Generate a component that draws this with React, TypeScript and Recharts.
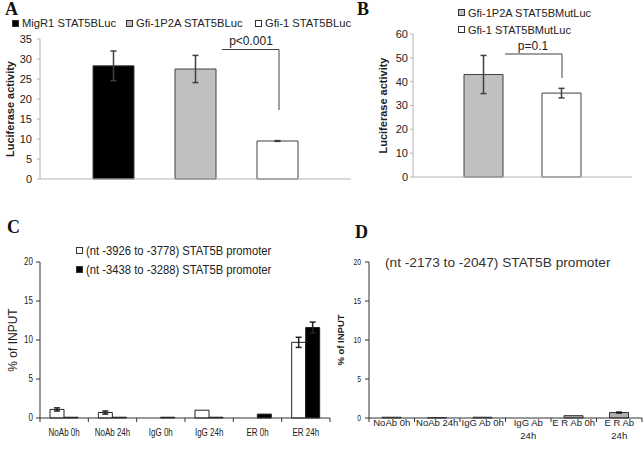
import React from "react";
import { BarChart, Bar, XAxis, YAxis, ErrorBar, Legend } from "recharts";

const SANS = "'Liberation Sans', Arial, sans-serif";
const SERIF = "'Liberation Serif', 'Times New Roman', serif";

// A: STAT5B reporter
const aSeries = ["MigR1 STAT5BLuc", "Gfi-1P2A STAT5BLuc", "Gfi-1 STAT5BLuc"];
const aValues = [28.3, 27.5, 9.5];
const aErrors = [3.7, 3.4, 0.1];
const aFills = ["#000000", "#c0c0c0", "#ffffff"];
const aTicks = [0, 5, 10, 15, 20, 25, 30, 35];

// B: mutated reporter
const bSeries = ["Gfi-1P2A STAT5BMutLuc", "Gfi-1 STAT5BMutLuc"];
const bValues = [43, 35.2];
const bErrors = [8, 2];
const bFills = ["#c0c0c0", "#ffffff"];
const bTicks = [0, 10, 20, 30, 40, 50, 60];

// C: ChIP, two promoter regions
const cCategories = ["NoAb 0h", "NoAb 24h", "IgG 0h", "IgG 24h", "ER 0h", "ER 24h"];
const cSeries = ["(nt -3926 to -3778) STAT5B promoter", "(nt -3438 to -3288) STAT5B promoter"];
const cUpstream = [1.1, 0.7, 0, 1.0, 0, 9.7];
const cUpstreamErr = [0.2, 0.2, 0, 0, 0, 0.65];
const cDownstream = [0.1, 0.1, 0.1, 0.1, 0.5, 11.6];
const cDownstreamErr = [0, 0, 0, 0, 0, 0.7];
const cFills = ["#ffffff", "#000000"];

// D: ChIP, third region
const dCategories = ["NoAb 0h", "NoAb 24h", "IgG Ab 0h", "IgG Ab\n24h", "E R Ab 0h", "E R Ab\n24h"];
const dValues = [0.1, 0.05, 0.1, 0, 0.3, 0.7];
const dErrors = [0, 0, 0, 0, 0, 0.05];
const pctTicks = [0, 5, 10, 15, 20];

const aRow: any = { name: "" };
aSeries.forEach((_, i) => {
  aRow[`v${i}`] = aValues[i];
  aRow[`e${i}`] = aErrors[i];
});
const bRow: any = { name: "" };
bSeries.forEach((_, i) => {
  bRow[`v${i}`] = bValues[i];
  bRow[`e${i}`] = bErrors[i];
});
const cData = cCategories.map((name, i) => ({
  name,
  up: cUpstream[i],
  upErr: cUpstreamErr[i],
  down: cDownstream[i],
  downErr: cDownstreamErr[i],
}));
const dData = dCategories.map((name, i) => ({ name, v: dValues[i], e: dErrors[i] }));

// legend with bordered swatches; xs = fixed item offsets for a single row
function SwatchLegend(props: any) {
  const { payload = [], order, xs, rowH, fontSize, squeeze = 1 } = props;
  const items = [...payload].sort(
    (a: any, b: any) => order.indexOf(a.value) - order.indexOf(b.value)
  );
  return (
    <div style={{ position: "relative", fontSize, fontFamily: SANS, color: "#222", whiteSpace: "nowrap", height: xs ? rowH : rowH * items.length }}>
      {items.map((it: any, i: number) => (
        <div
          key={it.value}
          style={{
            position: "absolute",
            left: xs ? xs[i] : 0,
            top: xs ? 0 : i * rowH,
            display: "flex",
            alignItems: "center",
            height: rowH,
          }}
        >
          <span style={{ width: 5, height: 5, border: "1px solid #333", background: it.color, marginRight: 3 }} />
          <span style={{ display: "inline-block", transform: `scaleX(${squeeze})`, transformOrigin: "left center" }}>{it.value}</span>
        </div>
      ))}
    </div>
  );
}

function yTitle(text: string, x: number, cyFallback: number, style: any) {
  return (p: any) => {
    const vb = p.viewBox;
    const cy = vb && vb.height ? vb.y + vb.height / 2 : cyFallback;
    return (
      <text x={x} y={cy} transform={`rotate(-90 ${x} ${cy})`} textAnchor="middle" dominantBaseline="central" fill="#222" {...style}>
        {text}
      </text>
    );
  };
}

// category tick: label in the band centre, tick marks on band edges
function BandTick(props: any) {
  const { x, y, payload, index, band, count, dy, lineH, fontSize, squeeze = 1, stroke } = props;
  const lines = String(payload.value).split("\n");
  const left = x - band / 2;
  return (
    <g>
      <line x1={left} x2={left} y1={y} y2={y + 4} stroke={stroke} />
      {index === count - 1 && <line x1={x + band / 2} x2={x + band / 2} y1={y} y2={y + 4} stroke={stroke} />}
      <text
        x={x}
        y={y + dy}
        textAnchor="middle"
        fontSize={fontSize}
        fontFamily={SANS}
        fill="#222"
        transform={`translate(${x} 0) scale(${squeeze} 1) translate(${-x} 0)`}
      >
        {lines.map((l, k) => (
          <tspan key={k} x={x} dy={k === 0 ? 0 : lineH}>
            {l}
          </tspan>
        ))}
      </text>
    </g>
  );
}

function NarrowYTick(props: any) {
  const { x, y, payload, fontSize, squeeze } = props;
  return (
    <text
      x={x}
      y={y}
      textAnchor="end"
      dominantBaseline="central"
      fontSize={fontSize}
      fontFamily={SANS}
      fill="#222"
      transform={`translate(${x} 0) scale(${squeeze} 1) translate(${-x} 0)`}
    >
      {payload.value}
    </text>
  );
}

export default function App() {
  const lightAxis = { stroke: "#b4b4b4" };
  const darkAxis = { stroke: "#333" };
  return (
    <div style={{ position: "absolute", left: 0, top: 0, width: 644, height: 449, background: "#fff", overflow: "hidden" }}>
      {/* A */}
      <div style={{ position: "absolute", left: 0, top: 0 }}>
        <BarChart width={360} height={200} data={[aRow]} margin={{ top: 39, right: 9, bottom: 0, left: 0 }} barSize={41} barGap={41}>
          <XAxis dataKey="name" tick={false} tickLine={false} height={21} axisLine={lightAxis} />
          <YAxis
            domain={[0, 35]}
            ticks={aTicks}
            interval={0}
            width={40}
            tickSize={3}
            tickMargin={5}
            axisLine={lightAxis}
            tickLine={lightAxis}
            tick={{ fill: "#222", fontSize: 11, fontFamily: SANS }}
            label={{ value: "Luciferase activity", content: yTitle("Luciferase activity", 10, 109, { fontSize: 11, fontWeight: "bold", fontFamily: SANS }) }}
          />
          <Legend
            layout="horizontal"
            verticalAlign="middle"
            align="center"
            wrapperStyle={{ top: 16, left: 0, width: 360 }}
            content={(p: any) => <SwatchLegend payload={p.payload} order={aSeries} xs={[12, 126, 255]} rowH={14} fontSize={11.2} />}
          />
          {aSeries.map((s, i) => (
            <Bar key={s} dataKey={`v${i}`} name={s} fill={aFills[i]} stroke="#404040" isAnimationActive={false}>
              <ErrorBar dataKey={`e${i}`} width={3} stroke="#404040" />
            </Bar>
          ))}
        </BarChart>
      </div>

      {/* B */}
      <div style={{ position: "absolute", left: 360, top: 0 }}>
        <BarChart width={284} height={200} data={[bRow]} margin={{ top: 34, right: 12, bottom: 0, left: 0 }} barSize={39} barGap={39}>
          <XAxis dataKey="name" tick={false} tickLine={false} height={23} axisLine={lightAxis} />
          <YAxis
            domain={[0, 60]}
            ticks={bTicks}
            interval={0}
            width={53}
            tickSize={3}
            tickMargin={2}
            axisLine={lightAxis}
            tickLine={lightAxis}
            tick={{ fill: "#222", fontSize: 11, fontFamily: SANS }}
            label={{ value: "Luciferase activity", content: yTitle("Luciferase activity", 23, 105, { fontSize: 11, fontWeight: "bold", fontFamily: SANS }) }}
          />
          <Legend
            layout="horizontal"
            verticalAlign="middle"
            align="center"
            wrapperStyle={{ top: 4, left: 98, width: 180 }}
            content={(p: any) => <SwatchLegend payload={p.payload} order={bSeries} rowH={17} fontSize={11} />}
          />
          {bSeries.map((s, i) => (
            <Bar key={s} dataKey={`v${i}`} name={s} fill={bFills[i]} stroke="#404040" isAnimationActive={false}>
              <ErrorBar dataKey={`e${i}`} width={3} stroke="#404040" />
            </Bar>
          ))}
        </BarChart>
      </div>

      {/* C */}
      <div style={{ position: "absolute", left: 0, top: 200 }}>
        <BarChart width={340} height={249} data={cData} margin={{ top: 62, right: 10, bottom: 0, left: 0 }} barSize={14} barGap={0}>
          <XAxis
            dataKey="name"
            interval={0}
            height={31}
            tickSize={0}
            tickMargin={0}
            tickLine={false}
            axisLine={darkAxis}
            tick={<BandTick band={290 / 6} count={6} dy={18} lineH={12} fontSize={10} squeeze={0.8} stroke="#333" />}
          />
          <YAxis
            domain={[0, 20]}
            ticks={pctTicks}
            interval={0}
            width={40}
            tickSize={4}
            tickMargin={3}
            axisLine={darkAxis}
            tickLine={darkAxis}
            tick={<NarrowYTick fontSize={10} squeeze={0.8} />}
            label={{ value: "% of INPUT", content: yTitle("% of INPUT", 13, 140, { fontSize: 12, fontFamily: SANS }) }}
          />
          <Legend
            layout="horizontal"
            verticalAlign="middle"
            align="center"
            wrapperStyle={{ top: 41, left: 76, width: 240 }}
            content={(p: any) => <SwatchLegend payload={p.payload} order={cSeries} rowH={19.3} fontSize={12.5} squeeze={0.9} />}
          />
          <Bar dataKey="up" name={cSeries[0]} fill={cFills[0]} stroke="#222" isAnimationActive={false}>
            <ErrorBar dataKey="upErr" width={3} stroke="#222" />
          </Bar>
          <Bar dataKey="down" name={cSeries[1]} fill={cFills[1]} stroke="#222" isAnimationActive={false}>
            <ErrorBar dataKey="downErr" width={3} stroke="#222" />
          </Bar>
        </BarChart>
      </div>

      {/* D */}
      <div style={{ position: "absolute", left: 330, top: 200 }}>
        <BarChart width={314} height={249} data={dData} margin={{ top: 62, right: 2, bottom: 0, left: 0 }} barSize={19}>
          <XAxis
            dataKey="name"
            interval={0}
            height={31}
            tickSize={0}
            tickMargin={0}
            tickLine={false}
            axisLine={darkAxis}
            tick={<BandTick band={273 / 6} count={6} dy={8} lineH={12.5} fontSize={9.5} stroke="#333" />}
          />
          <YAxis
            domain={[0, 20]}
            ticks={pctTicks}
            interval={0}
            width={39}
            tickSize={4}
            tickMargin={4}
            axisLine={darkAxis}
            tickLine={darkAxis}
            tick={<NarrowYTick fontSize={8.5} squeeze={0.8} />}
            label={{ value: "% of INPUT", content: yTitle("% of INPUT", 10, 140, { fontSize: 9.5, fontWeight: "bold", fontFamily: SANS }) }}
          />
          <Bar dataKey="v" name="(nt -2173 to -2047) STAT5B promoter" fill="#b0b0b0" stroke="#333" isAnimationActive={false}>
            <ErrorBar dataKey="e" width={3} stroke="#111" />
          </Bar>
        </BarChart>
      </div>

      {/* panel letters, significance brackets, D title */}
      <svg width={644} height={449} style={{ position: "absolute", left: 0, top: 0, pointerEvents: "none" }}>
        <g fontFamily={SERIF} fontWeight="bold" fontSize={18} fill="#111">
          <text x={5} y={15}>A</text>
          <text x={357} y={15}>B</text>
          <text x={7} y={233}>C</text>
          <text x={355} y={238}>D</text>
        </g>
        <polyline points="222,49.5 279,49.5 279,110" fill="none" stroke="#404040" />
        <text x={251} y={45} textAnchor="middle" fontSize={12} fontFamily={SANS} fill="#222">p&lt;0.001</text>
        <polyline points="505,54 562,54 562,78" fill="none" stroke="#404040" />
        <text x={533} y={49.5} textAnchor="middle" fontSize={12} fontFamily={SANS} fill="#222">p=0.1</text>
        <text x={385} y={266.5} fontSize={13.7} fontFamily={SANS} fill="#333">(nt -2173 to -2047) STAT5B promoter</text>
      </svg>
    </div>
  );
}
